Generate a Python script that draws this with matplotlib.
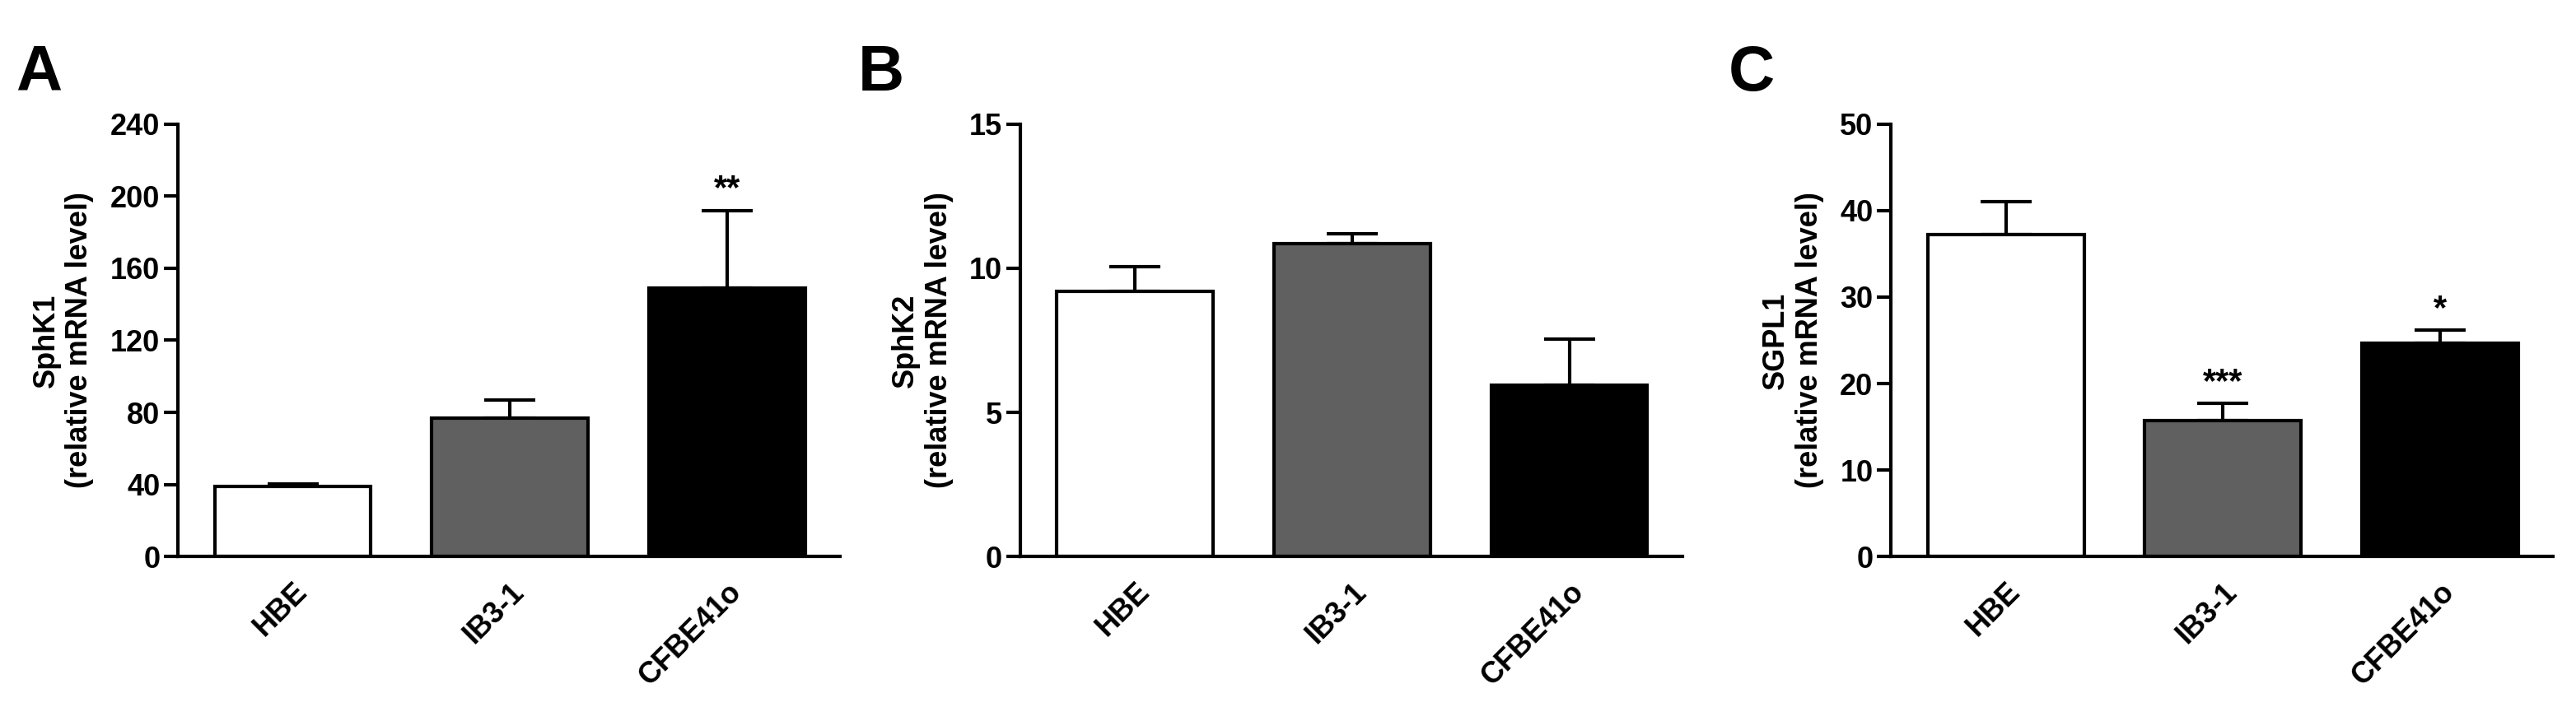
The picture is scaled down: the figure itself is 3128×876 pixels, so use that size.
import matplotlib
matplotlib.use("Agg")
import matplotlib.pyplot as plt

plt.rcParams['font.family'] = ['Liberation Sans', 'DejaVu Sans']
plt.rcParams['font.weight'] = 'bold'

categories = ["HBE", "IB3-1", "CFBE41o"]
colors = ["white", "#606060", "black"]

sphk1 = [39, 77, 149]
sphk1_err = [1.5, 10, 43]
sphk2 = [9.2, 10.85, 5.95]
sphk2_err = [0.85, 0.35, 1.6]
sgpl1 = [37.2, 15.7, 24.7]
sgpl1_err = [3.8, 2.0, 1.5]

sphk1_stars = ["", "", "**"]
sphk2_stars = ["", "", ""]
sgpl1_stars = ["", "***", "*"]

panels = [
    ("A", "SphK1", sphk1, sphk1_err, sphk1_stars, 240, [0, 40, 80, 120, 160, 200, 240]),
    ("B", "SphK2", sphk2, sphk2_err, sphk2_stars, 15, [0, 5, 10, 15]),
    ("C", "SGPL1", sgpl1, sgpl1_err, sgpl1_stars, 50, [0, 10, 20, 30, 40, 50]),
]
lefts = [0.069, 0.396, 0.734]
width = 0.257

fig = plt.figure(figsize=(31.28, 8.76), dpi=100)
for (letter, name, vals, errs, stars, ymax, ticks), l in zip(panels, lefts):
    ax = fig.add_axes([l, 0.228, width, 0.60])
    x = range(len(categories))
    ax.bar(x, vals, width=0.72, color=colors, edgecolor="black", linewidth=3, zorder=2)
    ax.errorbar(x, vals, yerr=[[0]*3, errs], fmt="none", ecolor="black",
                elinewidth=3, capsize=22, capthick=3, zorder=1)
    for xi, v, e, s in zip(x, vals, errs, stars):
        if s:
            ax.text(xi, v + e + ymax*0.01, s, ha="center", va="bottom", fontsize=30, fontweight="bold")
    ax.set_xlim(-0.53, 2.52)
    ax.set_ylim(0, ymax)
    ax.set_yticks(ticks)
    ax.set_xticks(list(x))
    ax.set_xticklabels(categories, rotation=45, ha="right", rotation_mode="anchor")
    ax.tick_params(axis="both", labelsize=26, width=3, length=12)
    ax.tick_params(axis="x", length=0, pad=18)
    for sp in ["top", "right"]:
        ax.spines[sp].set_visible(False)
    for sp in ["left", "bottom"]:
        ax.spines[sp].set_linewidth(3)
    ax.set_ylabel(f"{name}\n(relative mRNA level)", fontsize=26, fontweight="bold", labelpad=14)
    for t in ax.get_xticklabels() + ax.get_yticklabels():
        t.set_fontweight("bold")
    fig.text(l - 0.063, 0.94, letter, fontsize=56, fontweight="bold", va="top")

fig.savefig("out.png", dpi=100)
